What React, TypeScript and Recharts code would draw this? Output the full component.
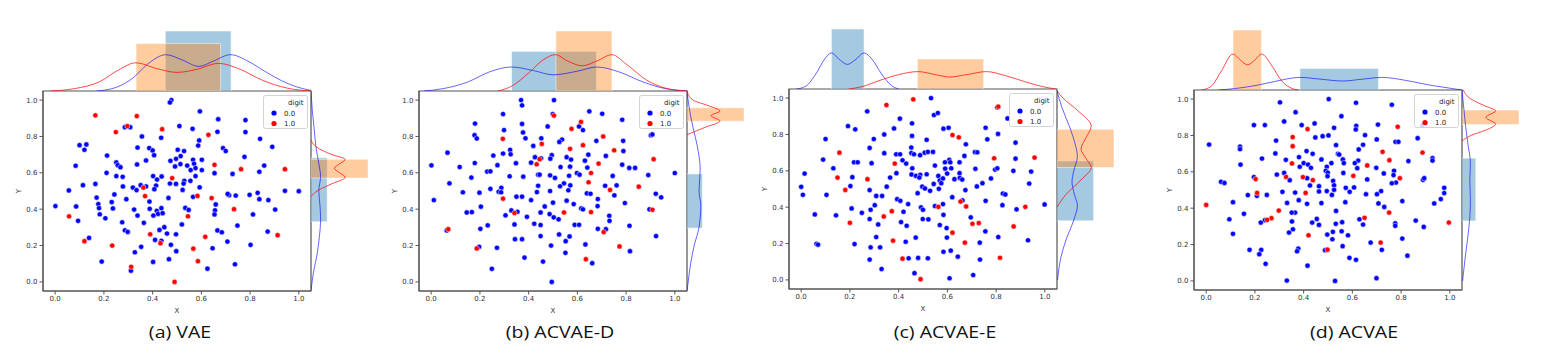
import {
  ComposedChart,
  Legend,
  Line,
  ReferenceArea,
  Scatter,
  ScatterChart,
  XAxis,
  YAxis,
} from 'recharts'

type Pt = [number, number]
type Hist = [number, number, number] // from, to, height

const ticks = [0, 0.2, 0.4, 0.6, 0.8, 1.0]
const captions = ['(a) VAE', '(b) ACVAE-D', '(c) ACVAE-E', '(d) ACVAE']
const legendTitle = 'digit'
const legendLabels = ['0.0', '1.0']

// ---- (a) VAE
const vaeBlue: Pt[] = [
  [0.477, 1.0], [0.471, 0.987], [0.594, 0.938], [0.669, 0.895], [0.781, 0.89], [0.51, 0.857],
  [0.564, 0.842], [0.286, 0.851], [0.308, 0.851], [0.666, 0.826], [0.781, 0.824], [0.841, 0.787],
  [0.356, 0.8], [0.435, 0.793], [0.591, 0.778], [0.587, 0.75], [0.1, 0.752], [0.128, 0.756],
  [0.12, 0.727], [0.689, 0.736], [0.7, 0.72], [0.891, 0.743], [0.338, 0.739], [0.386, 0.736],
  [0.4, 0.723], [0.406, 0.697], [0.213, 0.695], [0.503, 0.727], [0.529, 0.72], [0.515, 0.692],
  [0.496, 0.677], [0.473, 0.666], [0.777, 0.688], [0.566, 0.672], [0.602, 0.672], [0.57, 0.65],
  [0.542, 0.64], [0.492, 0.635], [0.514, 0.648], [0.373, 0.668], [0.336, 0.646], [0.251, 0.657],
  [0.257, 0.642], [0.268, 0.631], [0.084, 0.639], [0.858, 0.64], [0.838, 0.606], [0.728, 0.594],
  [0.654, 0.598], [0.576, 0.626], [0.556, 0.615], [0.602, 0.615], [0.576, 0.582], [0.211, 0.6],
  [0.251, 0.582], [0.277, 0.578], [0.402, 0.582], [0.418, 0.563], [0.53, 0.556], [0.555, 0.556],
  [0.593, 0.52], [0.437, 0.58], [0.414, 0.53], [0.407, 0.51], [0.471, 0.541], [0.496, 0.539],
  [0.527, 0.541], [0.114, 0.532], [0.165, 0.539], [0.278, 0.525], [0.319, 0.519], [0.351, 0.532],
  [0.373, 0.525], [0.334, 0.505], [0.523, 0.506], [0.056, 0.503], [0.714, 0.477], [0.708, 0.484],
  [0.741, 0.475], [0.798, 0.479], [0.831, 0.49], [0.943, 0.501], [1.0, 0.499], [0.838, 0.455],
  [0.875, 0.45], [0.243, 0.481], [0.17, 0.464], [0.292, 0.455], [0.387, 0.442], [0.465, 0.462],
  [0.566, 0.468], [0.177, 0.428], [0.232, 0.439], [0.659, 0.426], [0.18, 0.406], [0.237, 0.404],
  [0.324, 0.398], [0.388, 0.402], [0.417, 0.391], [0.436, 0.406], [0.534, 0.407], [0.548, 0.396],
  [0.656, 0.394], [0.422, 0.374], [0.441, 0.378], [0.654, 0.371], [0.812, 0.371], [0.903, 0.398],
  [0.001, 0.417], [0.086, 0.415], [0.183, 0.372], [0.206, 0.35], [0.338, 0.365], [0.403, 0.365],
  [0.094, 0.336], [0.364, 0.325], [0.52, 0.316], [0.275, 0.328], [0.748, 0.31], [0.448, 0.301],
  [0.428, 0.286], [0.666, 0.283], [0.684, 0.273], [0.286, 0.284], [0.298, 0.275], [0.872, 0.277],
  [0.459, 0.266], [0.496, 0.262], [0.139, 0.242], [0.41, 0.231], [0.436, 0.226], [0.707, 0.222],
  [0.802, 0.204], [0.475, 0.204], [0.353, 0.193], [0.327, 0.163], [0.497, 0.169], [0.646, 0.185],
  [0.191, 0.112], [0.402, 0.11], [0.467, 0.125], [0.738, 0.097], [0.625, 0.073], [0.311, 0.062],
]
const vaeRed: Pt[] = [
  [0.165, 0.916], [0.335, 0.912], [0.296, 0.857], [0.439, 0.84], [0.249, 0.824], [0.629, 0.809],
  [0.654, 0.644], [0.763, 0.62], [0.943, 0.62], [0.48, 0.571], [0.362, 0.519], [0.369, 0.472],
  [0.584, 0.473], [0.642, 0.461], [0.545, 0.361], [0.734, 0.4], [0.057, 0.361], [0.39, 0.262],
  [0.616, 0.248], [0.913, 0.257], [0.12, 0.224], [0.234, 0.2], [0.432, 0.213], [0.567, 0.183],
  [0.586, 0.114], [0.312, 0.083], [0.49, 0.0],
]
const vaeTopHistBlue: Hist = [0.452, 0.722, 1.0]
const vaeTopHistOrange: Hist = [0.332, 0.679, 0.79]
const vaeTopKdeBlue: Pt[] = [
  [0.17, 0], [0.25, 0.06], [0.32, 0.22], [0.38, 0.45], [0.455, 0.605], [0.52, 0.52], [0.59, 0.41],
  [0.65, 0.5], [0.72, 0.605], [0.79, 0.5], [0.86, 0.33], [0.93, 0.17], [0.99, 0.07], [1.05, 0.01],
]
const vaeTopKdeRed: Pt[] = [
  [-0.02, 0], [0.08, 0.04], [0.18, 0.15], [0.26, 0.35], [0.33, 0.47], [0.42, 0.37], [0.5, 0.31],
  [0.58, 0.36], [0.67, 0.46], [0.76, 0.36], [0.85, 0.18], [0.95, 0.05], [1.05, 0],
]
const vaeRightHistBlue: Hist = [0.331, 0.683, 0.27]
const vaeRightHistOrange: Hist = [0.571, 0.674, 0.95]
const vaeRightKdeBlue: Pt[] = [
  [-0.05, 0], [0.05, 0.04], [0.15, 0.1], [0.25, 0.14], [0.34, 0.16], [0.42, 0.15], [0.5, 0.13],
  [0.58, 0.16], [0.65, 0.13], [0.75, 0.08], [0.85, 0.05], [0.95, 0.02], [1.05, 0],
]
const vaeRightKdeRed: Pt[] = [
  [0.47, 0], [0.5, 0.1], [0.54, 0.35], [0.575, 0.57], [0.6, 0.48], [0.625, 0.39], [0.65, 0.48],
  [0.674, 0.57], [0.7, 0.35], [0.74, 0.1], [0.78, 0],
]

// ---- (b) ACVAE-D
const dBlue: Pt[] = [
  [0.369, 1.0], [0.504, 1.0], [0.373, 0.971], [0.295, 0.923], [0.499, 0.923], [0.649, 0.938],
  [0.702, 0.925], [0.784, 0.892], [0.18, 0.871], [0.373, 0.869], [0.478, 0.855], [0.299, 0.835],
  [0.623, 0.835], [0.607, 0.855], [0.377, 0.822], [0.178, 0.807], [0.187, 0.789], [0.387, 0.79],
  [0.452, 0.79], [0.537, 0.783], [0.526, 0.77], [0.678, 0.776], [0.788, 0.776], [0.902, 0.807],
  [0.908, 0.811], [0.324, 0.726], [0.419, 0.748], [0.067, 0.711], [0.295, 0.706], [0.326, 0.702],
  [0.789, 0.72], [0.645, 0.7], [0.495, 0.697], [0.255, 0.695], [0.717, 0.693], [0.451, 0.68],
  [0.426, 0.686], [0.556, 0.686], [0.574, 0.673], [0.631, 0.667], [0.489, 0.678], [0.41, 0.656],
  [0.179, 0.654], [0.348, 0.653], [0.001, 0.641], [0.117, 0.632], [0.272, 0.642], [0.531, 0.632],
  [0.57, 0.634], [0.641, 0.629], [0.784, 0.645], [0.813, 0.627], [0.837, 0.627], [0.598, 0.599],
  [0.609, 0.59], [0.745, 0.583], [0.891, 0.588], [1.0, 0.599], [0.23, 0.607], [0.243, 0.608],
  [0.322, 0.581], [0.378, 0.579], [0.439, 0.59], [0.445, 0.59], [0.488, 0.586], [0.566, 0.584],
  [0.165, 0.574], [0.075, 0.542], [0.243, 0.512], [0.288, 0.518], [0.277, 0.496], [0.287, 0.493],
  [0.545, 0.542], [0.571, 0.531], [0.563, 0.504], [0.529, 0.526], [0.439, 0.529], [0.434, 0.494],
  [0.488, 0.5], [0.508, 0.572], [0.714, 0.529], [0.761, 0.531], [0.752, 0.476], [0.639, 0.487],
  [0.654, 0.485], [0.922, 0.485], [0.944, 0.465], [0.13, 0.493], [0.198, 0.491], [0.35, 0.469],
  [0.373, 0.469], [0.011, 0.45], [0.41, 0.45], [0.684, 0.456], [0.5, 0.436], [0.556, 0.447],
  [0.616, 0.404], [0.623, 0.399], [0.795, 0.434], [0.683, 0.417], [0.466, 0.415], [0.585, 0.428],
  [0.204, 0.414], [0.393, 0.358], [0.146, 0.382], [0.167, 0.384], [0.305, 0.366], [0.329, 0.393],
  [0.354, 0.386], [0.449, 0.382], [0.486, 0.373], [0.503, 0.355], [0.523, 0.344], [0.423, 0.32],
  [0.449, 0.313], [0.342, 0.316], [0.589, 0.314], [0.607, 0.314], [0.731, 0.364], [0.732, 0.336],
  [0.814, 0.309], [0.896, 0.399], [0.202, 0.292], [0.232, 0.311], [0.684, 0.292], [0.717, 0.29],
  [0.449, 0.252], [0.525, 0.261], [0.568, 0.25], [0.923, 0.252], [0.344, 0.235], [0.373, 0.235],
  [0.552, 0.224], [0.633, 0.206], [0.492, 0.2], [0.064, 0.283], [0.197, 0.193], [0.27, 0.188],
  [0.551, 0.16], [0.816, 0.169], [0.383, 0.134], [0.459, 0.112], [0.661, 0.103], [0.249, 0.072],
  [0.495, 0.0],
]
const dRed: Pt[] = [
  [0.504, 0.915], [0.615, 0.88], [0.576, 0.842], [0.294, 0.787], [0.706, 0.8], [0.454, 0.759],
  [0.57, 0.732], [0.623, 0.752], [0.751, 0.724], [0.445, 0.675], [0.433, 0.647], [0.687, 0.651],
  [0.913, 0.675], [0.656, 0.599], [0.646, 0.548], [0.852, 0.524], [0.734, 0.506], [0.295, 0.458],
  [0.545, 0.382], [0.656, 0.384], [0.908, 0.397], [0.342, 0.379], [0.708, 0.274], [0.773, 0.195],
  [0.07, 0.29], [0.187, 0.184], [0.635, 0.125],
]
const dTopHistBlue: Hist = [0.33, 0.678, 0.66]
const dTopHistOrange: Hist = [0.512, 0.742, 1.0]
const dTopKdeBlue: Pt[] = [
  [-0.03, 0], [0.05, 0.04], [0.15, 0.15], [0.24, 0.32], [0.33, 0.4], [0.42, 0.34], [0.5, 0.27],
  [0.6, 0.33], [0.68, 0.4], [0.77, 0.32], [0.87, 0.15], [0.96, 0.04], [1.05, 0],
]
const dTopKdeRed: Pt[] = [
  [0.273, 0], [0.33, 0.08], [0.4, 0.3], [0.46, 0.52], [0.51, 0.605], [0.56, 0.5], [0.62, 0.42],
  [0.68, 0.5], [0.742, 0.605], [0.8, 0.45], [0.885, 0.18], [0.96, 0.05], [1.05, 0],
]
const dRightHistBlue: Hist = [0.296, 0.594, 0.255]
const dRightHistOrange: Hist = [0.884, 0.958, 0.95]
const dRightKdeBlue: Pt[] = [
  [-0.05, 0], [0.0, 0.02], [0.1, 0.06], [0.2, 0.12], [0.3, 0.2], [0.42, 0.23], [0.5, 0.2],
  [0.62, 0.22], [0.75, 0.17], [0.85, 0.1], [0.95, 0.04], [1.05, 0],
]
const dRightKdeRed: Pt[] = [
  [0.81, 0], [0.85, 0.3], [0.885, 0.55], [0.915, 0.4], [0.94, 0.55], [0.97, 0.35], [1.0, 0.1],
  [1.05, 0],
]

// ---- (c) ACVAE-E
const eBlue: Pt[] = [
  [0.533, 1.0], [0.545, 0.907], [0.561, 0.918], [0.271, 0.927], [0.805, 0.949], [0.405, 0.887],
  [0.455, 0.861], [0.192, 0.846], [0.222, 0.828], [0.381, 0.833], [0.584, 0.832], [0.605, 0.837],
  [0.757, 0.837], [0.847, 0.888], [0.341, 0.8], [0.455, 0.792], [0.1, 0.775], [0.298, 0.775],
  [0.515, 0.771], [0.676, 0.746], [0.764, 0.773], [0.808, 0.803], [0.88, 0.755], [0.281, 0.726],
  [0.452, 0.728], [0.452, 0.698], [0.341, 0.697], [0.507, 0.7], [0.52, 0.704], [0.541, 0.704],
  [0.463, 0.691], [0.488, 0.686], [0.39, 0.691], [0.406, 0.691], [0.67, 0.682], [0.713, 0.703],
  [0.723, 0.702], [0.88, 0.667], [0.09, 0.662], [0.416, 0.658], [0.608, 0.66], [0.132, 0.614],
  [0.217, 0.647], [0.232, 0.647], [0.289, 0.642], [0.431, 0.64], [0.456, 0.614], [0.549, 0.629],
  [0.59, 0.647], [0.612, 0.647], [0.65, 0.647], [0.014, 0.585], [0.21, 0.565], [0.365, 0.563],
  [0.391, 0.587], [0.453, 0.58], [0.471, 0.572], [0.489, 0.578], [0.485, 0.563], [0.515, 0.581],
  [0.563, 0.572], [0.591, 0.612], [0.599, 0.585], [0.616, 0.614], [0.65, 0.587], [0.651, 0.561],
  [0.715, 0.611], [0.796, 0.607], [0.805, 0.614], [0.871, 0.6], [0.944, 0.596], [0.569, 0.547],
  [0.575, 0.532], [0.582, 0.558], [0.544, 0.528], [0.497, 0.513], [0.508, 0.503], [0.529, 0.49],
  [0.565, 0.501], [0.629, 0.554], [0.661, 0.552], [0.721, 0.514], [0.744, 0.532], [0.779, 0.558],
  [0.936, 0.53], [0.202, 0.516], [0.0, 0.512], [0.007, 0.468], [0.104, 0.468], [0.281, 0.494],
  [0.351, 0.513], [0.308, 0.462], [0.332, 0.462], [0.394, 0.444], [0.407, 0.435], [0.478, 0.477],
  [0.674, 0.494], [0.662, 0.437], [0.62, 0.455], [0.828, 0.475], [0.838, 0.47], [0.757, 0.435],
  [0.285, 0.386], [0.302, 0.411], [0.207, 0.393], [0.249, 0.369], [0.281, 0.335], [0.42, 0.375],
  [0.439, 0.417], [0.492, 0.399], [0.5, 0.386], [0.549, 0.406], [0.582, 0.417], [0.584, 0.358],
  [0.499, 0.335], [0.522, 0.333], [0.569, 0.302], [0.696, 0.344], [0.756, 0.267], [0.826, 0.411],
  [0.884, 0.388], [0.999, 0.415], [0.056, 0.36], [0.143, 0.355], [0.316, 0.305], [0.41, 0.318],
  [0.433, 0.298], [0.597, 0.285], [0.308, 0.236], [0.429, 0.21], [0.47, 0.233], [0.598, 0.233],
  [0.733, 0.205], [0.809, 0.236], [0.931, 0.218], [0.063, 0.199], [0.069, 0.194], [0.219, 0.197],
  [0.285, 0.179], [0.324, 0.179], [0.584, 0.155], [0.614, 0.161], [0.643, 0.128], [0.734, 0.112],
  [0.48, 0.121], [0.52, 0.119], [0.441, 0.119], [0.281, 0.112], [0.33, 0.06], [0.465, 0.037],
  [0.609, 0.009], [0.706, 0.027],
]
const eRed: Pt[] = [
  [0.46, 0.993], [0.35, 0.962], [0.809, 0.953], [0.621, 0.797], [0.647, 0.784], [0.157, 0.7],
  [0.384, 0.64], [0.792, 0.669], [0.958, 0.673], [0.149, 0.563], [0.181, 0.495], [0.272, 0.554],
  [0.654, 0.431], [0.677, 0.404], [0.563, 0.402], [0.92, 0.402], [0.372, 0.378], [0.339, 0.349],
  [0.2, 0.314], [0.703, 0.309], [0.729, 0.313], [0.621, 0.26], [0.872, 0.294], [0.377, 0.216],
  [0.672, 0.205], [0.416, 0.117], [0.816, 0.122], [0.49, 0.004],
]
const eTopHistBlue: Hist = [0.124, 0.258, 1.0]
const eTopHistOrange: Hist = [0.477, 0.749, 0.5]
const eTopKdeBlue: Pt[] = [
  [-0.02, 0], [0.02, 0.05], [0.06, 0.25], [0.1, 0.52], [0.124, 0.6], [0.16, 0.48], [0.19, 0.41],
  [0.22, 0.48], [0.258, 0.6], [0.29, 0.5], [0.33, 0.25], [0.37, 0.06], [0.4, 0],
]
const eTopKdeRed: Pt[] = [
  [0.195, 0], [0.25, 0.04], [0.32, 0.14], [0.4, 0.24], [0.48, 0.29], [0.55, 0.24], [0.61, 0.2],
  [0.68, 0.24], [0.76, 0.29], [0.84, 0.22], [0.92, 0.12], [0.99, 0.04], [1.046, 0],
]
const eRightHistBlue: Hist = [0.325, 0.654, 0.61]
const eRightHistOrange: Hist = [0.618, 0.828, 0.95]
const eRightKdeBlue: Pt[] = [
  [0.0, 0.01], [0.1, 0.05], [0.22, 0.15], [0.33, 0.28], [0.41, 0.34], [0.47, 0.29], [0.54, 0.25],
  [0.6, 0.28], [0.68, 0.34], [0.75, 0.3], [0.85, 0.2], [0.95, 0.08], [1.04, 0],
]
const eRightKdeRed: Pt[] = [
  [0.4, 0], [0.47, 0.15], [0.55, 0.4], [0.618, 0.57], [0.67, 0.48], [0.72, 0.4], [0.78, 0.48],
  [0.846, 0.57], [0.93, 0.35], [1.0, 0.1], [1.04, 0],
]

// ---- (d) ACVAE
const fBlue: Pt[] = [
  [0.503, 1.0], [0.303, 0.982], [0.615, 0.98], [0.762, 0.969], [0.367, 0.928], [0.555, 0.906],
  [0.32, 0.877], [0.196, 0.857], [0.241, 0.857], [0.392, 0.857], [0.445, 0.866], [0.705, 0.86],
  [0.525, 0.842], [0.616, 0.853], [0.614, 0.833], [0.888, 0.857], [0.9, 0.866], [0.502, 0.8],
  [0.478, 0.796], [0.448, 0.789], [0.652, 0.802], [0.868, 0.785], [0.287, 0.772], [0.7, 0.778],
  [0.777, 0.765], [0.789, 0.765], [0.012, 0.75], [0.139, 0.739], [0.139, 0.725], [0.412, 0.714],
  [0.533, 0.747], [0.626, 0.723], [0.644, 0.749], [0.284, 0.701], [0.437, 0.699], [0.541, 0.699],
  [0.546, 0.695], [0.381, 0.681], [0.229, 0.673], [0.327, 0.666], [0.473, 0.668], [0.561, 0.668],
  [0.624, 0.662], [0.929, 0.675], [0.929, 0.662], [0.83, 0.659], [0.141, 0.64], [0.4, 0.648],
  [0.418, 0.64], [0.43, 0.622], [0.384, 0.628], [0.495, 0.628], [0.514, 0.648], [0.565, 0.648],
  [0.61, 0.648], [0.62, 0.62], [0.698, 0.622], [0.771, 0.606], [0.491, 0.606], [0.29, 0.585],
  [0.32, 0.594], [0.196, 0.571], [0.061, 0.545], [0.075, 0.539], [0.343, 0.554], [0.414, 0.565],
  [0.499, 0.596], [0.498, 0.576], [0.521, 0.55], [0.563, 0.594], [0.525, 0.526], [0.525, 0.501],
  [0.573, 0.512], [0.607, 0.514], [0.589, 0.49], [0.661, 0.558], [0.729, 0.591], [0.769, 0.582],
  [0.779, 0.541], [0.762, 0.537], [0.718, 0.494], [0.89, 0.556], [0.895, 0.565], [0.977, 0.512],
  [0.977, 0.483], [0.963, 0.45], [0.936, 0.426], [0.463, 0.521], [0.495, 0.494], [0.516, 0.473],
  [0.365, 0.486], [0.426, 0.525], [0.463, 0.492], [0.313, 0.49], [0.249, 0.473], [0.208, 0.468],
  [0.171, 0.472], [0.701, 0.477], [0.656, 0.477], [0.707, 0.426], [0.731, 0.407], [0.805, 0.439],
  [0.11, 0.433], [0.332, 0.429], [0.38, 0.444], [0.414, 0.424], [0.473, 0.428], [0.533, 0.385],
  [0.571, 0.433], [0.365, 0.376], [0.351, 0.376], [0.155, 0.369], [0.095, 0.339], [0.352, 0.327],
  [0.356, 0.284], [0.241, 0.334], [0.224, 0.321], [0.435, 0.321], [0.454, 0.341], [0.463, 0.308],
  [0.532, 0.314], [0.558, 0.323], [0.629, 0.339], [0.644, 0.31], [0.776, 0.317], [0.776, 0.303],
  [0.86, 0.332], [0.893, 0.297], [0.34, 0.266], [0.52, 0.27], [0.556, 0.273], [0.582, 0.251],
  [0.497, 0.255], [0.518, 0.229], [0.675, 0.211], [0.721, 0.171], [0.805, 0.233], [0.11, 0.259],
  [0.178, 0.171], [0.226, 0.171], [0.218, 0.147], [0.378, 0.178], [0.373, 0.163], [0.488, 0.169],
  [0.56, 0.191], [0.588, 0.127], [0.615, 0.116], [0.826, 0.139], [0.244, 0.094], [0.416, 0.084],
  [0.331, 0.002], [0.529, 0.0], [0.699, 0.015],
]
const fRed: Pt[] = [
  [0.416, 0.835], [0.786, 0.848], [0.355, 0.791], [0.355, 0.741], [0.724, 0.71], [0.752, 0.664],
  [0.888, 0.706], [0.352, 0.646], [0.661, 0.635], [0.604, 0.578], [0.397, 0.571], [0.328, 0.572],
  [0.438, 0.554], [0.795, 0.565], [0.203, 0.56], [0.209, 0.484], [0.408, 0.484], [0.0, 0.418],
  [0.298, 0.387], [0.268, 0.345], [0.25, 0.336], [0.65, 0.347], [0.751, 0.376], [0.996, 0.321],
  [0.42, 0.251], [0.716, 0.211], [0.498, 0.172],
]
const fTopHistBlue: Hist = [0.385, 0.707, 0.36]
const fTopHistOrange: Hist = [0.11, 0.227, 1.0]
const fTopKdeBlue: Pt[] = [
  [0.05, 0], [0.13, 0.03], [0.21, 0.08], [0.29, 0.15], [0.385, 0.21], [0.47, 0.18], [0.56, 0.15],
  [0.64, 0.18], [0.72, 0.21], [0.82, 0.16], [0.92, 0.08], [1.0, 0.03], [1.05, 0],
]
const fTopKdeRed: Pt[] = [
  [-0.02, 0], [0.02, 0.06], [0.06, 0.3], [0.11, 0.6], [0.14, 0.5], [0.17, 0.42], [0.2, 0.5],
  [0.227, 0.6], [0.27, 0.4], [0.31, 0.15], [0.35, 0.03], [0.38, 0],
]
const fRightHistBlue: Hist = [0.33, 0.675, 0.23]
const fRightHistOrange: Hist = [0.86, 0.94, 0.95]
const fRightKdeBlue: Pt[] = [
  [0.0, 0.01], [0.12, 0.05], [0.25, 0.1], [0.35, 0.13], [0.45, 0.14], [0.55, 0.13], [0.65, 0.14],
  [0.75, 0.1], [0.85, 0.06], [0.95, 0.03], [1.05, 0],
]
const fRightKdeRed: Pt[] = [
  [0.77, 0], [0.8, 0.15], [0.83, 0.4], [0.862, 0.56], [0.9, 0.4], [0.936, 0.56], [0.96, 0.4],
  [1.0, 0.15], [1.05, 0.02],
]

const W = 268
const H = 200
const M = 60
const DOM: [number, number] = [-0.05, 1.05]
const FONT = 'DejaVu Sans, sans-serif'
const BLUE = '#0000ff'
const RED = '#ff0000'
const HBLUE = '#1f77b4'
const HORANGE = '#ff7f0e'

const fmt = (v: number) => v.toFixed(1)
const toXY = (pts: Pt[]) => pts.map(([x, y]) => ({ x, y }))
const toTop = (pts: Pt[]) => pts.map(([x, v]) => ({ x, v }))
const toSide = (pts: Pt[]) => pts.map(([y, v]) => ({ y, v }))

function dot(color: string) {
  return (p: any) => (
    <circle cx={p.cx} cy={p.cy} r={2.6} fill={color} stroke="#fff" strokeWidth={0.5} />
  )
}

function LegendBox() {
  return (
    <svg width={45} height={34} style={{ display: 'block' }}>
      <rect x={0.5} y={0.5} width={44} height={33} rx={2} fill="#fff" fillOpacity={0.8} stroke="#d4d4d4" />
      <text x={25} y={9.5} fontSize={7} fontFamily={FONT} fill="#262626">{legendTitle}</text>
      <circle cx={11} cy={18} r={2.6} fill={BLUE} />
      <text x={21} y={20.5} fontSize={7} fontFamily={FONT} fill="#262626">{legendLabels[0]}</text>
      <circle cx={11} cy={28.5} r={2.6} fill={RED} />
      <text x={21} y={31} fontSize={7} fontFamily={FONT} fill="#262626">{legendLabels[1]}</text>
    </svg>
  )
}

type PanelProps = {
  left: number
  top: number
  blue: Pt[]
  red: Pt[]
  topHistBlue: Hist
  topHistOrange: Hist
  topKdeBlue: Pt[]
  topKdeRed: Pt[]
  rightHistBlue: Hist
  rightHistOrange: Hist
  rightKdeBlue: Pt[]
  rightKdeRed: Pt[]
}

const tickStyle = { fontSize: 7, fill: '#333', fontFamily: FONT }

function Panel(p: PanelProps) {
  return (
    <>
      <div style={{ position: 'absolute', left: p.left - 43, top: p.top - 1 }}>
        <ScatterChart width={43 + W + 2} height={H + 27} margin={{ top: 1, right: 2, bottom: 0, left: 18 }}>
          <XAxis
            type="number"
            dataKey="x"
            domain={DOM}
            ticks={ticks}
            allowDataOverflow
            tickFormatter={fmt}
            tick={tickStyle}
            tickSize={3.5}
            tickMargin={2}
            stroke="#555"
            height={26}
            label={{ value: 'X', position: 'insideBottom', offset: 4, ...tickStyle }}
          />
          <YAxis
            type="number"
            dataKey="y"
            domain={DOM}
            ticks={ticks}
            allowDataOverflow
            tickFormatter={fmt}
            tick={tickStyle}
            tickSize={3.5}
            tickMargin={2}
            stroke="#555"
            width={25}
            label={{
              position: 'insideLeft',
              content: (lp: any) => {
                const vb = lp.viewBox
                const x = vb.x + 2.5
                const y = vb.y + vb.height / 2
                return (
                  <text x={x} y={y} transform={`rotate(-90 ${x} ${y})`} textAnchor="middle" {...tickStyle}>
                    Y
                  </text>
                )
              },
            }}
          />
          <ReferenceArea x1={-0.05} x2={1.05} y1={-0.05} y2={1.05} fill="none" stroke="#555" strokeWidth={1.2} ifOverflow="visible" />
          <Scatter data={toXY(p.blue)} shape={dot(BLUE)} isAnimationActive={false} />
          <Scatter data={toXY(p.red)} shape={dot(RED)} isAnimationActive={false} />
          <Legend
            layout="horizontal"
            verticalAlign="middle"
            align="center"
            content={() => <LegendBox />}
            wrapperStyle={{ top: 5, left: 43 + W - 3 - 45, width: 45, height: 34 }}
          />
        </ScatterChart>
      </div>

      <div style={{ position: 'absolute', left: p.left, top: p.top - M }}>
        <ComposedChart width={W} height={M} margin={{ top: 0, right: 0, bottom: 0, left: 0 }}>
          <XAxis type="number" dataKey="x" domain={DOM} hide />
          <YAxis type="number" domain={[0, 1]} hide />
          <ReferenceArea x1={p.topHistBlue[0]} x2={p.topHistBlue[1]} y1={0} y2={p.topHistBlue[2]} fill={HBLUE} fillOpacity={0.4} stroke="#fff" strokeOpacity={0.5} />
          <ReferenceArea x1={p.topHistOrange[0]} x2={p.topHistOrange[1]} y1={0} y2={p.topHistOrange[2]} fill={HORANGE} fillOpacity={0.4} stroke="#fff" strokeOpacity={0.5} />
          <Line data={toTop(p.topKdeBlue)} dataKey="v" type="monotone" dot={false} stroke={BLUE} strokeOpacity={0.6} strokeWidth={1} isAnimationActive={false} />
          <Line data={toTop(p.topKdeRed)} dataKey="v" type="monotone" dot={false} stroke={RED} strokeOpacity={0.7} strokeWidth={1} isAnimationActive={false} />
        </ComposedChart>
      </div>

      <div style={{ position: 'absolute', left: p.left + W, top: p.top }}>
        <ComposedChart layout="vertical" width={M} height={H} margin={{ top: 0, right: 0, bottom: 0, left: 0 }}>
          <XAxis type="number" domain={[0, 1]} hide />
          <YAxis type="number" dataKey="y" domain={DOM} hide reversed />
          <ReferenceArea x1={0} x2={p.rightHistBlue[2]} y1={p.rightHistBlue[0]} y2={p.rightHistBlue[1]} fill={HBLUE} fillOpacity={0.4} stroke="#fff" strokeOpacity={0.5} />
          <ReferenceArea x1={0} x2={p.rightHistOrange[2]} y1={p.rightHistOrange[0]} y2={p.rightHistOrange[1]} fill={HORANGE} fillOpacity={0.4} stroke="#fff" strokeOpacity={0.5} />
          <Line data={toSide(p.rightKdeBlue)} dataKey="v" type="monotone" dot={false} stroke={BLUE} strokeOpacity={0.6} strokeWidth={1} isAnimationActive={false} />
          <Line data={toSide(p.rightKdeRed)} dataKey="v" type="monotone" dot={false} stroke={RED} strokeOpacity={0.7} strokeWidth={1} isAnimationActive={false} />
        </ComposedChart>
      </div>
    </>
  )
}

const panels: PanelProps[] = [
  {
    left: 43, top: 91, blue: vaeBlue, red: vaeRed,
    topHistBlue: vaeTopHistBlue, topHistOrange: vaeTopHistOrange, topKdeBlue: vaeTopKdeBlue, topKdeRed: vaeTopKdeRed,
    rightHistBlue: vaeRightHistBlue, rightHistOrange: vaeRightHistOrange, rightKdeBlue: vaeRightKdeBlue, rightKdeRed: vaeRightKdeRed,
  },
  {
    left: 419, top: 91, blue: dBlue, red: dRed,
    topHistBlue: dTopHistBlue, topHistOrange: dTopHistOrange, topKdeBlue: dTopKdeBlue, topKdeRed: dTopKdeRed,
    rightHistBlue: dRightHistBlue, rightHistOrange: dRightHistOrange, rightKdeBlue: dRightKdeBlue, rightKdeRed: dRightKdeRed,
  },
  {
    left: 789, top: 89, blue: eBlue, red: eRed,
    topHistBlue: eTopHistBlue, topHistOrange: eTopHistOrange, topKdeBlue: eTopKdeBlue, topKdeRed: eTopKdeRed,
    rightHistBlue: eRightHistBlue, rightHistOrange: eRightHistOrange, rightKdeBlue: eRightKdeBlue, rightKdeRed: eRightKdeRed,
  },
  {
    left: 1194, top: 90, blue: fBlue, red: fRed,
    topHistBlue: fTopHistBlue, topHistOrange: fTopHistOrange, topKdeBlue: fTopKdeBlue, topKdeRed: fTopKdeRed,
    rightHistBlue: fRightHistBlue, rightHistOrange: fRightHistOrange, rightKdeBlue: fRightKdeBlue, rightKdeRed: fRightKdeRed,
  },
]

const captionCenters = [180, 560, 945, 1354]

export default function App() {
  return (
    <div style={{ position: 'absolute', left: 0, top: 0, width: 1543, height: 354, background: '#fff', overflow: 'hidden' }}>
      {panels.map((p, i) => (
        <Panel key={i} {...p} />
      ))}
      {captions.map((c, i) => (
        <div
          key={c}
          style={{
            position: 'absolute',
            left: captionCenters[i] - 100,
            top: 324,
            width: 200,
            textAlign: 'center',
            fontFamily: 'Open Sans, sans-serif',
            fontSize: 16,
            lineHeight: '16px',
            color: '#111',
            transform: 'scaleX(1.22)',
          }}
        >
          {c}
        </div>
      ))}
    </div>
  )
}
